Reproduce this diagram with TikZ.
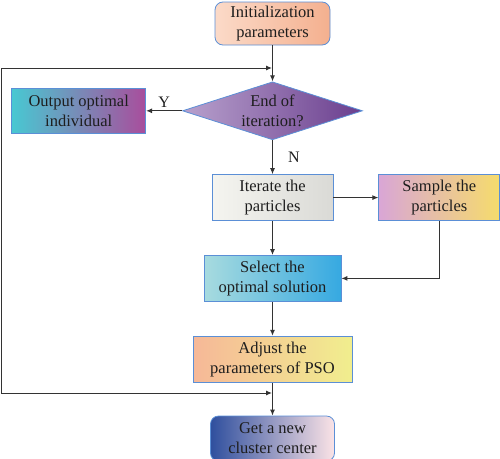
\documentclass[tikz,border=0pt]{standalone}
\usepackage{fontspec}
\setmainfont{Liberation Serif}
\usetikzlibrary{positioning, shapes.geometric, arrows.meta}

\definecolor{boxblue}{HTML}{5B8FD6}
\definecolor{linegray}{HTML}{333333}
\definecolor{textgray}{HTML}{1E1E1E}

\begin{document}
\begin{tikzpicture}[x=1pt, y=-1pt, node distance=34pt,
    box/.style={draw=boxblue, line width=0.8pt, align=center, text=textgray,
        font=\fontsize{16.5}{20}\selectfont, minimum height=46pt, inner sep=2pt},
    arrow/.style={draw=linegray, line width=1pt, -{Latex[length=6pt,width=5pt]}},
    twoarrow/.style={draw=linegray, line width=1pt, {Latex[length=6pt,width=5pt]}-{Latex[length=6pt,width=5pt]}},
    lbl/.style={text=textgray, font=\fontsize{16}{18}\selectfont, inner sep=1pt}]
    \useasboundingbox (0,0) rectangle (500,458);

    % Main column
    \node[box, rounded corners=8pt, minimum width=115pt, minimum height=43pt,
        left color={rgb,255:red,251;green,218;blue,200}, right color={rgb,255:red,244;green,176;blue,143}]
        (init) at (272.5,23.5) {Initialization\\parameters};
    \node[box, diamond, aspect=3.1, minimum width=180pt, minimum height=58pt, inner sep=0pt,
        left color={rgb,255:red,184;green,161;blue,205}, right color={rgb,255:red,106;green,62;blue,142},
        below=36pt of init] (cond) {End of\\iteration?};
    \node[box, minimum width=121pt, below=of cond,
        left color={rgb,255:red,245;green,245;blue,240}, right color={rgb,255:red,218;green,218;blue,214}]
        (iterate) {Iterate the\\particles};
    \node[box, minimum width=137pt, below=of iterate,
        left color={rgb,255:red,168;green,219;blue,223}, right color={rgb,255:red,54;green,169;blue,225}]
        (select) {Select the\\optimal solution};
    \node[box, minimum width=159pt, below=of select,
        left color={rgb,255:red,246;green,184;blue,152}, right color={rgb,255:red,241;green,238;blue,142}]
        (adjust) {Adjust the\\parameters of PSO};
    \node[box, rounded corners=8pt, minimum width=124pt, minimum height=45pt, below=33pt of adjust,
        left color={rgb,255:red,47;green,79;blue,158}, right color={rgb,255:red,251;green,227;blue,230}]
        (getcenter) {Get a new\\cluster center};

    % Side boxes
    \node[box, minimum width=134pt, minimum height=45pt, left=36pt of cond,
        left color={rgb,255:red,72;green,200;blue,210}, middle color={rgb,255:red,184;green,176;blue,216},
        right color={rgb,255:red,169;green,77;blue,156}]
        (output) {Output optimal\\individual};
    \node[box, minimum width=121pt, right=45pt of iterate,
        left color={rgb,255:red,217;green,166;blue,214}, right color={rgb,255:red,246;green,220;blue,108}]
        (sample) {Sample the\\particles};

    % Loop corners
    \coordinate (topin) at (272,68);
    \coordinate (botin) at (272,393);
    \coordinate (tl) at (1,68);
    \coordinate (bl) at (1,393);

    % Connectors
    \draw[arrow] (init) -- (cond);
    \draw[arrow] (cond) -- node[lbl, above=2pt] {Y} (output);
    \draw[arrow] (cond) -- node[lbl, right=14pt] {N} (iterate);
    \draw[arrow] (iterate) -- (sample);
    \draw[arrow] (iterate) -- (select);
    \draw[arrow] (sample.south) |- (select.east);
    \draw[arrow] (select) -- (adjust);
    \draw[arrow] (adjust) -- (getcenter);
    \draw[twoarrow] (botin) -- (bl) -- (tl) -- (topin);
\end{tikzpicture}
\end{document}
